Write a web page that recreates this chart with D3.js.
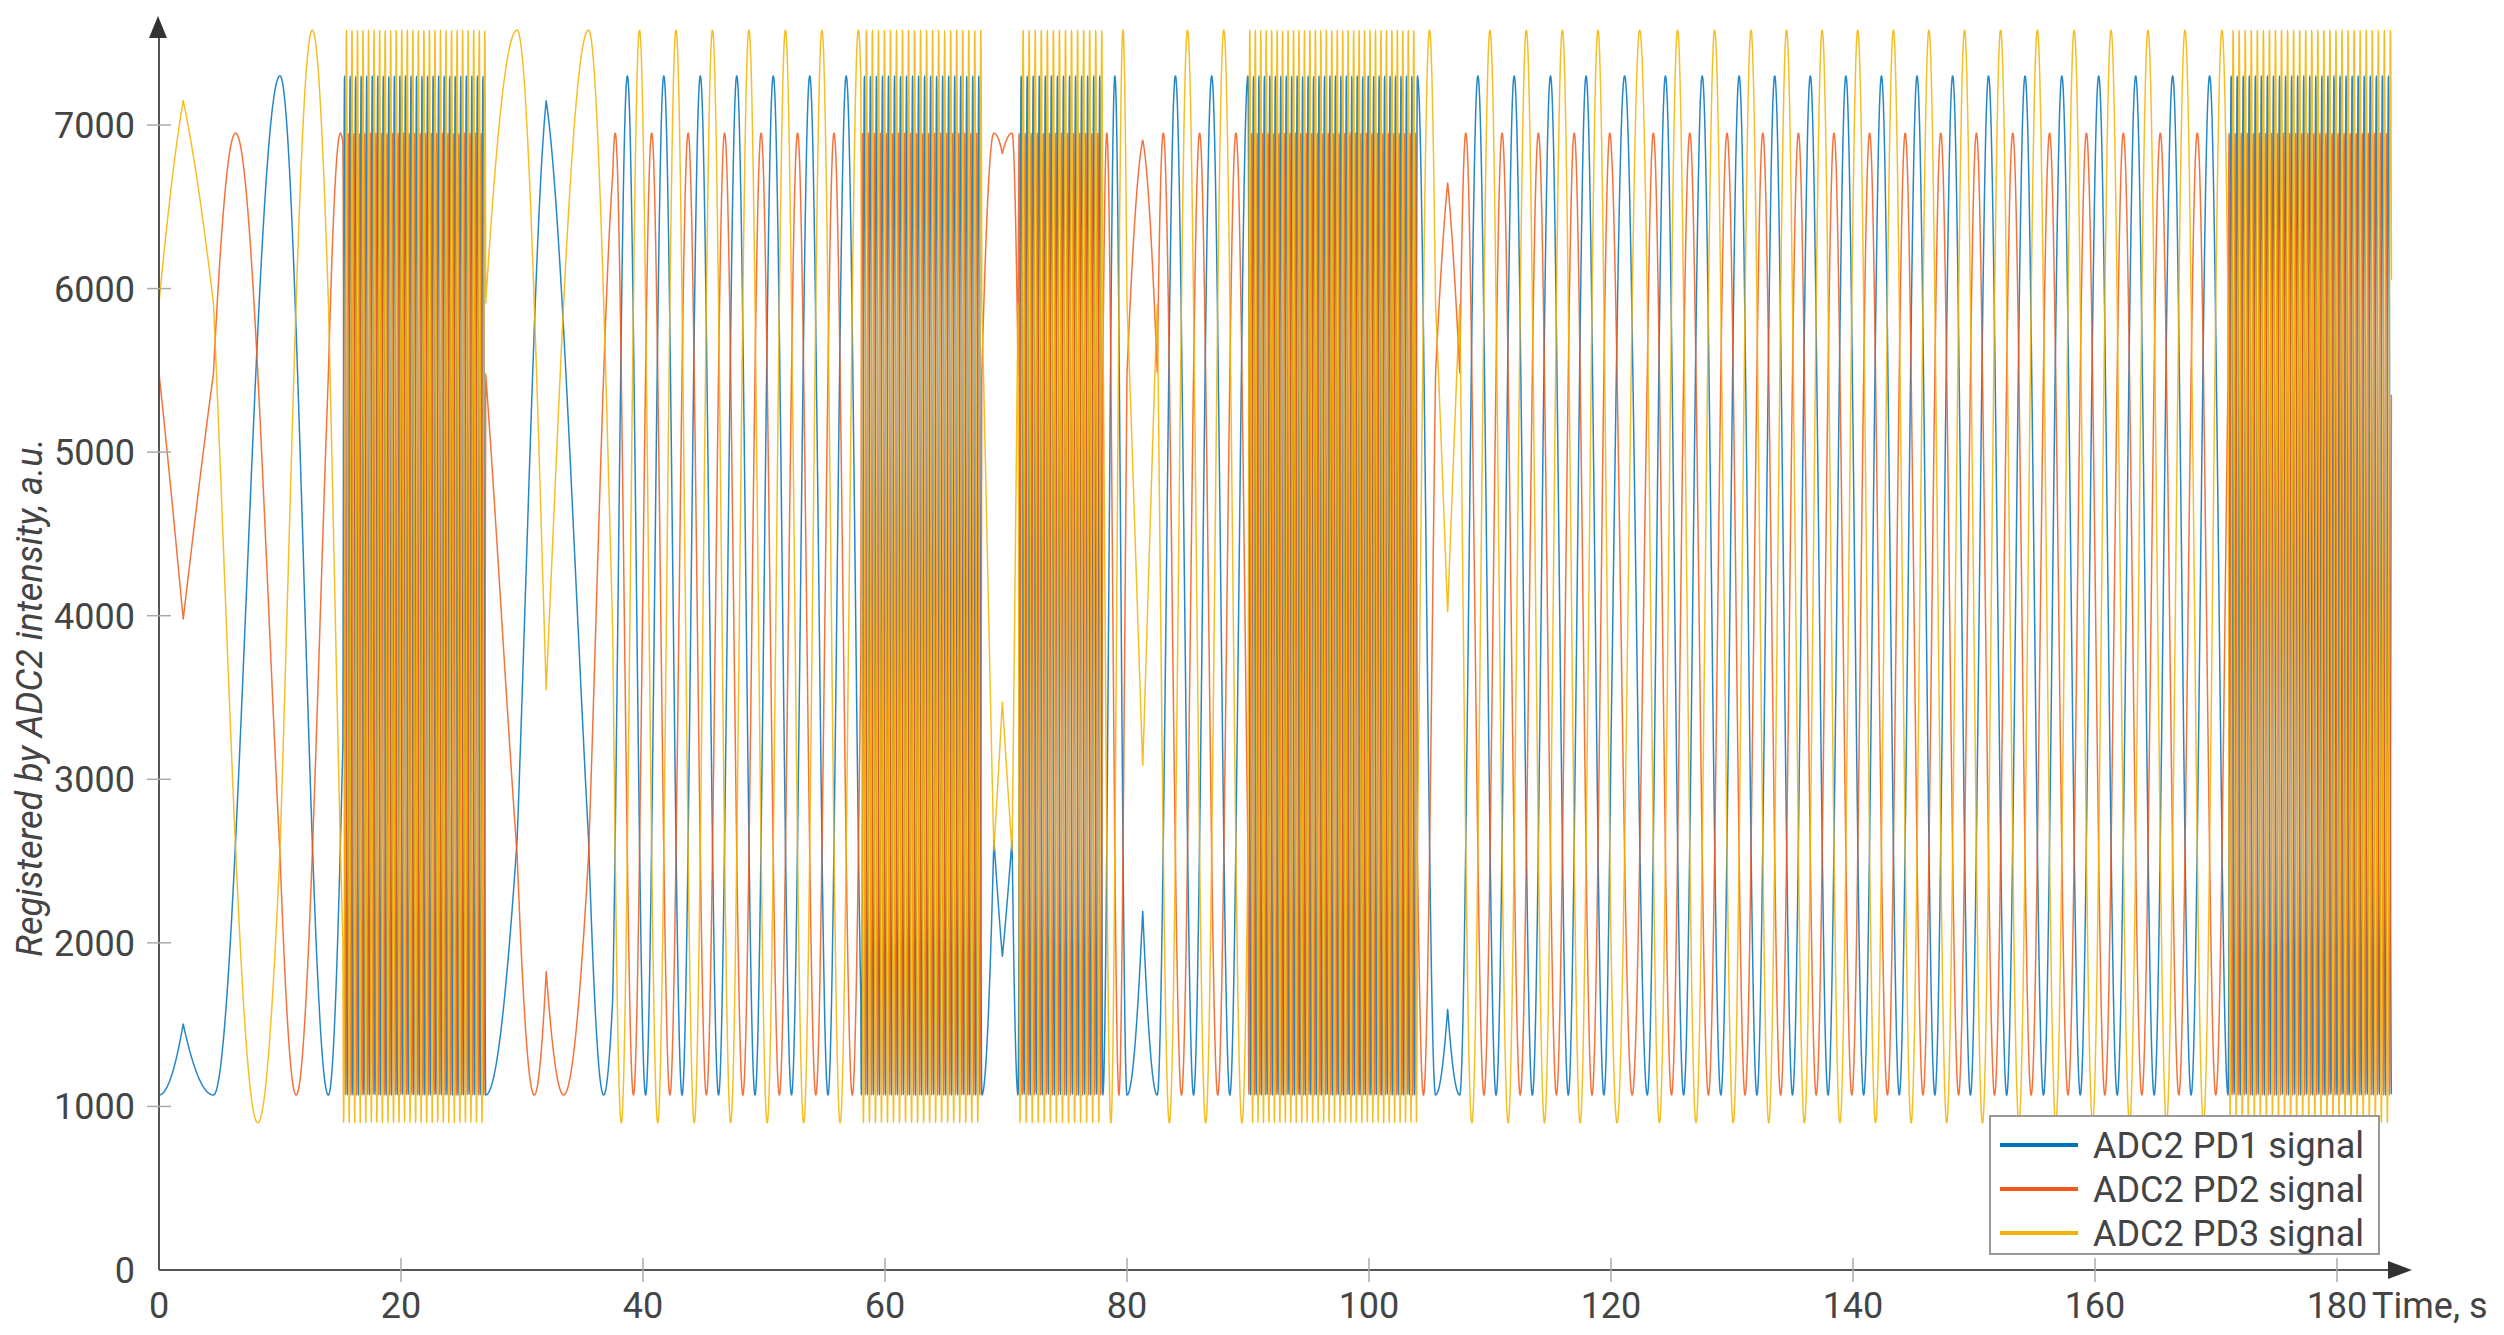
<!DOCTYPE html>
<html><head><meta charset="utf-8">
<script src="https://cdn.jsdelivr.net/npm/d3@7"></script>
<style>body{margin:0;background:#fff}svg{font-family:Roboto,"Liberation Sans",sans-serif}</style>
</head><body><svg id="c" width="2504" height="1335"></svg>
<script>
// Interferometric phase keypoints (time s, cumulative fringe cycles)
const phaseTimes  = [0, 2, 4.5, 10, 14, 15.2, 27, 29.6, 32, 35.5, 37.5, 58, 68, 69, 69.7, 70.5, 71, 78, 80, 81.3, 82.5, 90, 104, 105.5, 106.5, 107.5, 115, 120, 123, 126, 130, 135, 140, 145, 150, 153, 160, 171, 184.5];
const phaseCycles = [0, 0.085, 0, -0.5, -1.0, -1.2, -27.0, -26.833, -26.55, -26.833, -27.1, -33.9, -54.0, -54.167, -54.12, -54.167, -54.0, -68.0, -69.0, -69.14, -69.0, -71.5, -102.5, -103.0, -103.094, -103.0, -105.5, -107.2, -108.0, -109.0, -110.3, -112.0, -113.7, -115.4, -117.1, -118.1, -120.4, -124.0, -151.0];
// Channel ranges (min, max) and phase offsets (fraction of cycle)
const seriesNames = ["ADC2 PD1 signal", "ADC2 PD2 signal", "ADC2 PD3 signal"];
const seriesMin = [1070, 1070, 900];
const seriesMax = [7300, 6950, 7580];
const seriesOffset = [0, -1/3, 1/3];
const seriesColor = ["#0072BD", "#F25A1B", "#F5B300"];
const xTicks = [0,20,40,60,80,100,120,140,160,180];
const yTicks = [0,1000,2000,3000,4000,5000,6000,7000];

const svg = d3.select("#c");
const x = d3.scaleLinear().domain([0,180]).range([159,2337]);
const y = d3.scaleLinear().domain([0,7000]).range([1270,125]);
const tc = "#444";

const phase = d3.scaleLinear().domain(phaseTimes).range(phaseCycles);
const times = d3.range(0, 184.5, 0.008);

seriesNames.forEach((n,i)=>{
  const mid=(seriesMin[i]+seriesMax[i])/2, amp=(seriesMax[i]-seriesMin[i])/2;
  const pts = times.map(t=>[t, mid - amp*Math.cos(2*Math.PI*(phase(t)+seriesOffset[i]))]);
  svg.append("path").attr("d", d3.line().curve(d3.curveMonotoneX).x(d=>x(d[0])).y(d=>y(d[1]))(pts))
    .attr("fill","none").attr("stroke",seriesColor[i]).attr("stroke-width",1.5).attr("stroke-opacity",0.85);
});

// axes
const ax = svg.append("g").attr("stroke","#555");
ax.append("line").attr("x1",x(0)).attr("x2",2395).attr("y1",y(0)).attr("y2",y(0)).attr("stroke-width",2);
ax.append("line").attr("x1",x(0)).attr("x2",x(0)).attr("y1",y(0)).attr("y2",36).attr("stroke-width",2);
svg.append("path").attr("d","M2412,1270 L2388,1261 L2388,1279 Z").attr("fill","#333");
svg.append("path").attr("d","M158,16 L149,38 L167,38 Z").attr("fill","#333");
xTicks.forEach(t=>{
  if(t>0) ax.append("line").attr("x1",x(t)).attr("x2",x(t)).attr("y1",y(0)-12).attr("y2",y(0)+12).attr("stroke","#aaa").attr("stroke-width",1.5);
  svg.append("text").attr("x",x(t)).attr("y",1318).attr("text-anchor","middle").attr("font-size",36).attr("fill",tc).text(t);
});
yTicks.forEach(v=>{
  if(v>0) ax.append("line").attr("x1",x(0)-12).attr("x2",x(0)+12).attr("y1",y(v)).attr("y2",y(v)).attr("stroke","#aaa").attr("stroke-width",1.5);
  svg.append("text").attr("x",x(0)-24).attr("y",y(v)+13).attr("text-anchor","end").attr("font-size",36).attr("fill",tc).text(v);
});
svg.append("text").attr("x",2372).attr("y",1318).attr("font-size",36).attr("fill",tc).text("Time, s");
svg.append("text").attr("transform","translate(42,"+((125+1270)/2)+") rotate(-90)").attr("text-anchor","middle")
  .attr("font-size",36).attr("font-style","italic").attr("fill",tc).text("Registered by ADC2 intensity, a.u.");

// legend
const lg = svg.append("g");
lg.append("rect").attr("x",1990).attr("y",1116).attr("width",389).attr("height",138).attr("fill","#fff").attr("stroke","#999").attr("stroke-width",2);
seriesNames.forEach((n,i)=>{
  const yy=1145+i*44;
  lg.append("line").attr("x1",2000).attr("x2",2078).attr("y1",yy).attr("y2",yy).attr("stroke",seriesColor[i]).attr("stroke-width",4);
  lg.append("text").attr("x",2093).attr("y",yy+13).attr("font-size",36).attr("fill",tc).text(n);
});
</script></body></html>
